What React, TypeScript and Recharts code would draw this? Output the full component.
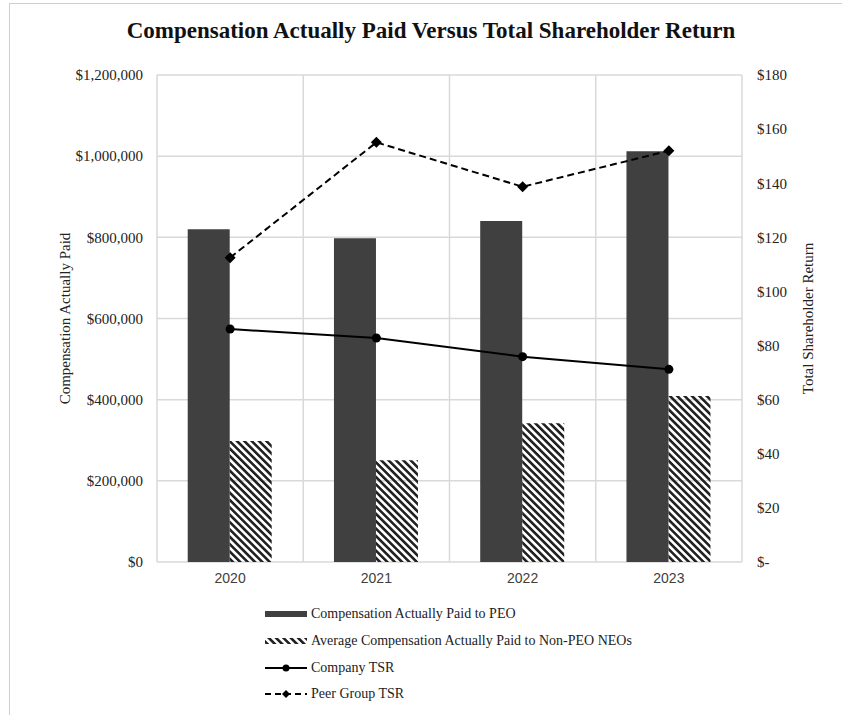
import { ComposedChart, Bar, Line, XAxis, YAxis, CartesianGrid } from 'recharts';

const years = ['2020', '2021', '2022', '2023'];
const capPeo = [820000, 798000, 840000, 1012000];
const capNonPeo = [298000, 251000, 342000, 409000];
const companyTsr = [86.1, 82.8, 75.9, 71.2];
const peerTsr = [112.5, 155.1, 138.7, 152.0];

const leftTicks = [0, 200000, 400000, 600000, 800000, 1000000, 1200000];
const rightTicks = [0, 20, 40, 60, 80, 100, 120, 140, 160, 180];

const seriesNames = [
  'Compensation Actually Paid to PEO',
  'Average Compensation Actually Paid to Non-PEO NEOs',
  'Company TSR',
  'Peer Group TSR',
];

const data = years.map((year, i) => ({
  year,
  peo: capPeo[i],
  nonPeo: capNonPeo[i],
  company: companyTsr[i],
  peer: peerTsr[i],
}));

const SERIF = '"Liberation Serif", "Times New Roman", serif';
const BAR_COLOR = '#404040';

const Diamond = (props: any) => {
  const { cx, cy, index } = props;
  if (cx == null || cy == null) return <g key={`d-${index}`} />;
  const r = 5.5;
  return (
    <path
      key={`d-${index}`}
      d={`M${cx},${cy - r}L${cx + r},${cy}L${cx},${cy + r}L${cx - r},${cy}Z`}
      fill="#000"
    />
  );
};

function Swatch({ kind }: { kind: number }) {
  return (
    <svg width={44} height={12} style={{ display: 'block' }}>
      <defs>
        <pattern id="hatchLegend" patternUnits="userSpaceOnUse" width={5.2} height={5.2} patternTransform="rotate(-45)">
          <rect x={0} y={0} width={2.6} height={5.2} fill="#222" />
        </pattern>
      </defs>
      {kind === 0 && <rect x={1} y={3} width={42} height={6} fill={BAR_COLOR} />}
      {kind === 1 && <rect x={1} y={3} width={42} height={6} fill="url(#hatchLegend)" />}
      {kind === 2 && (
        <>
          <line x1={1} y1={6} x2={43} y2={6} stroke="#000" strokeWidth={2} />
          <circle cx={22} cy={6} r={3.5} fill="#000" />
        </>
      )}
      {kind === 3 && (
        <>
          <line x1={1} y1={6} x2={43} y2={6} stroke="#000" strokeWidth={2} strokeDasharray="6 4" />
          <path d="M22,2L26,6L22,10L18,6Z" fill="#000" />
        </>
      )}
    </svg>
  );
}

export default function App() {
  return (
    <div style={{ position: 'absolute', left: 0, top: 0, width: 842, height: 715, background: '#fff', fontFamily: SERIF }}>
      <div
        style={{
          position: 'absolute',
          left: 9,
          top: 3,
          right: 0,
          bottom: 0,
          borderTop: '1px solid #cfcfcf',
          borderLeft: '1px solid #cfcfcf',
        }}
      />
      <div
        style={{
          position: 'absolute',
          top: 18,
          left: 0,
          width: 862,
          textAlign: 'center',
          fontSize: 23,
          fontWeight: 'bold',
          color: '#111',
        }}
      >
        Compensation Actually Paid Versus Total Shareholder Return
      </div>

      <div style={{ position: 'absolute', left: 0, top: 0 }}>
        <ComposedChart
          width={842}
          height={600}
          data={data}
          margin={{ top: 75, right: 0, bottom: 0, left: 0 }}
          barCategoryGap="21%"
          barGap={0}
        >
          <defs>
            <pattern id="hatch" patternUnits="userSpaceOnUse" width={5.2} height={5.2} patternTransform="rotate(-45)">
              <rect x={0} y={0} width={2.6} height={5.2} fill="#222" />
            </pattern>
          </defs>
          <CartesianGrid
            yAxisId="left"
            stroke="#d9d9d9"
            strokeWidth={1.5}
            verticalCoordinatesGenerator={({ offset }: any) =>
              [0, 1, 2, 3, 4].map((i) => offset.left + (offset.width * i) / 4)
            }
          />
          <XAxis
            dataKey="year"
            height={38}
            axisLine={false}
            tickLine={false}
            tickMargin={5}
            tick={{ fontFamily: '"Liberation Sans", Arial, sans-serif', fontSize: 14, fill: '#404040' }}
          />
          <YAxis
            yAxisId="left"
            orientation="left"
            width={157}
            domain={[0, 1200000]}
            ticks={leftTicks}
            interval={0}
            axisLine={false}
            tickLine={false}
            tickMargin={8}
            tick={{ fontFamily: SERIF, fontSize: 15, fill: '#222' }}
            tickFormatter={(v: number) => '$' + v.toLocaleString('en-US')}
            label={{
              value: 'Compensation Actually Paid',
              angle: -90,
              position: 'insideLeft',
              offset: 65,
              style: { textAnchor: 'middle', fontFamily: SERIF, fontSize: 15, fill: '#222' },
            }}
          />
          <YAxis
            yAxisId="right"
            orientation="right"
            width={100}
            domain={[0, 180]}
            ticks={rightTicks}
            interval={0}
            axisLine={false}
            tickLine={false}
            tickMargin={9}
            tick={{ fontFamily: SERIF, fontSize: 15, fill: '#222' }}
            tickFormatter={(v: number) => (v === 0 ? '$-' : '$' + v)}
            label={{
              value: 'Total Shareholder Return',
              angle: -90,
              position: 'insideRight',
              offset: 34,
              style: { textAnchor: 'middle', fontFamily: SERIF, fontSize: 15, fill: '#222' },
            }}
          />
          <Bar yAxisId="left" dataKey="peo" name={seriesNames[0]} fill={BAR_COLOR} isAnimationActive={false} />
          <Bar yAxisId="left" dataKey="nonPeo" name={seriesNames[1]} fill="url(#hatch)" isAnimationActive={false} />
          <Line
            yAxisId="right"
            type="linear"
            dataKey="company"
            name={seriesNames[2]}
            stroke="#000"
            strokeWidth={2}
            dot={{ r: 4.5, fill: '#000', stroke: '#000', strokeWidth: 0 }}
            activeDot={false}
            isAnimationActive={false}
          />
          <Line
            yAxisId="right"
            type="linear"
            dataKey="peer"
            name={seriesNames[3]}
            stroke="#000"
            strokeWidth={2}
            strokeDasharray="7 4"
            dot={Diamond}
            activeDot={false}
            isAnimationActive={false}
          />
        </ComposedChart>
      </div>

      <div style={{ position: 'absolute', left: 264, top: 601 }}>
        {seriesNames.map((name, i) => (
          <div key={name} style={{ display: 'flex', alignItems: 'center', height: 26.7, fontSize: 14, color: '#222' }}>
            <Swatch kind={i} />
            <span style={{ marginLeft: 3 }}>{name}</span>
          </div>
        ))}
      </div>
    </div>
  );
}
